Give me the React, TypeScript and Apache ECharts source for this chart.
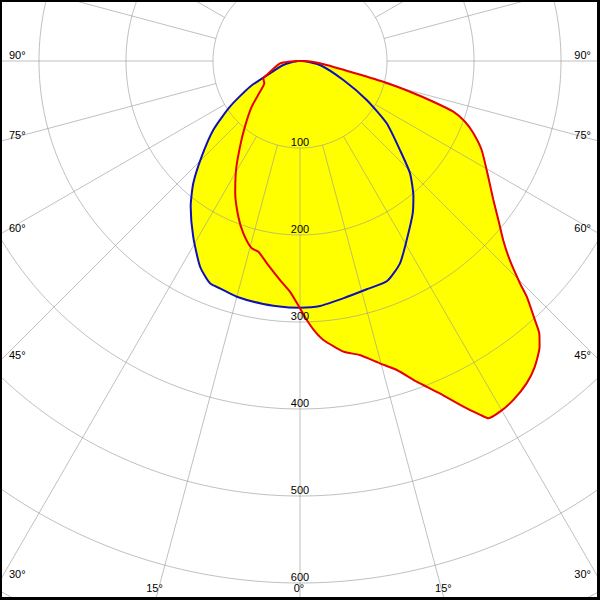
import React, { useEffect, useRef } from "react";
import * as echarts from "echarts";

// Luminous intensity (cd/klm) – plane C90/C270 (blue)
const blueAngles = [-180, -90, -76.5, -67.7, -62.8, -56.9, -51.5, -45.8, -41.1, -36.9, -31.3, -25.9, -22.0, -19.4, -15.0, -8.6, -3.1, 0, 4.7, 10.3, 16.3, 21.6, 26.3, 30.8, 36.5, 39.9, 44.4, 48.3, 54.3, 59.7, 66.3, 78.7, 90, 180];
const blueValues = [0, 2, 19.7, 37.3, 64.6, 96.1, 127.4, 157.7, 186.6, 209.3, 236.3, 262.9, 275.7, 277, 280.5, 282.5, 283.5, 283.5, 282.5, 277.3, 273.4, 272, 259.4, 239.5, 217.8, 203.2, 180.7, 153.9, 122.7, 88.8, 54.4, 23.4, 2, 0];

// plane C0/C180 (red)
const redAngles = [-180, -90, -83.4, -67.2, -64.8, -58.0, -52.5, -46.6, -40.0, -35.0, -30.4, -26.1, -21.6, -18.2, -14.5, -12.3, -9.3, -5.2, -2.5, 0, 1.5, 3.2, 4.8, 8.5, 11.5, 14.8, 17.4, 20.0, 22.8, 25.3, 27.0, 27.8, 29.7, 32.2, 35.1, 37.5, 40.0, 41.3, 42.2, 43.9, 44.7, 46.5, 48.6, 51.3, 54.3, 58.4, 63.9, 67.4, 69.8, 71.7, 73.0, 74.4, 76.0, 77.9, 83.4, 90, 180];
const redValues = [0, 3, 23.1, 41.5, 46.6, 48.4, 58, 76.4, 98.5, 120.2, 145.3, 169.3, 192.5, 208.5, 222.3, 224.4, 235.6, 252.8, 265.4, 284.3, 297.8, 311.6, 321.8, 337.8, 344.9, 359.4, 372.2, 392.3, 414.5, 439.4, 456.4, 464.2, 464.0, 460.3, 452.9, 443.2, 428.4, 416.7, 402, 375.9, 359.5, 332.5, 311.4, 292.2, 273.7, 254, 232.5, 215.9, 202.1, 185.6, 160.2, 131.3, 98.7, 58.8, 23.1, 3, 0];

// labels and grid
const radiusTicks = [100, 200, 300, 400, 500, 600];
const gridRadii = [100, 200, 300, 400, 500, 600, 700, 800];
const gridAngles = [-180, -165, -150, -135, -120, -105, -90, -75, -60, -45, -30, -15, 0, 15, 30, 45, 60, 75, 90, 105, 120, 135, 150, 165];
const angleTicks = [-90, -75, -60, -45, -30, -15, 0, 15, 30, 45, 60, 75, 90];

const CENTER = [300, 61];
const R_MAX = 800;
const R_PX = 696;

const FONT = "'Liberation Sans', Arial, sans-serif";
const GRID_COLOR = "rgba(150,150,150,0.6)";

const zip = (angles: number[], values: number[]) => angles.map((a, i) => [values[i], a]);

export default function App() {
  const ref = useRef<HTMLDivElement>(null);
  useEffect(() => {
    if (!ref.current) return;
    const chart = echarts.init(ref.current, null, { renderer: "svg" });
    const blueData = zip(blueAngles, blueValues);
    const redData = zip(redAngles, redValues);

    const circleAngles: number[] = [];
    for (let a = -180; a <= 180; a += 1) circleAngles.push(a);
    const gridSeries: any[] = [];
    gridRadii.forEach((r) => {
      gridSeries.push({
        type: "line", coordinateSystem: "polar", polarIndex: 0, silent: true,
        symbol: "none", smooth: false,
        lineStyle: { color: GRID_COLOR, width: 1 },
        data: circleAngles.map((a) => [r, a]),
      });
    });
    gridAngles.forEach((a) => {
      gridSeries.push({
        type: "line", coordinateSystem: "polar", polarIndex: 0, silent: true,
        symbol: "none", smooth: false,
        lineStyle: { color: GRID_COLOR, width: 1 },
        data: [[gridRadii[0], a], [gridRadii[gridRadii.length - 1], a]],
      });
    });

    chart.setOption({
      animation: false,
      backgroundColor: "#ffffff",
      polar: { center: CENTER, radius: R_PX },
      radiusAxis: { min: 0, max: R_MAX, show: false },
      angleAxis: { min: -180, max: 180, startAngle: 90, clockwise: false, show: false },
      series: [
        {
          type: "line", coordinateSystem: "polar", data: redData,
          symbol: "none", smooth: 0.2, lineStyle: { width: 0 },
          areaStyle: { color: "#ffff00", opacity: 1 }, silent: true,
        },
        {
          type: "line", coordinateSystem: "polar", data: blueData,
          symbol: "none", smooth: 0.2, lineStyle: { width: 0 },
          areaStyle: { color: "#ffff00", opacity: 1 }, silent: true,
        },
        ...gridSeries,
        {
          type: "line", coordinateSystem: "polar", data: blueData,
          symbol: "none", smooth: 0.2, lineStyle: { width: 2, color: "#1010b8" },
        },
        {
          type: "line", coordinateSystem: "polar", data: redData,
          symbol: "none", smooth: 0.2, lineStyle: { width: 2, color: "#e60000" },
        },
      ],
    });

    const toPx = (r: number, a: number): number[] => {
      try {
        const p = chart.convertToPixel({ seriesIndex: 0 }, [r, a]) as number[];
        if (p && isFinite(p[0]) && isFinite(p[1])) return p;
      } catch (e) {}
      const rad = (a * Math.PI) / 180;
      const k = (R_PX / R_MAX) * r;
      return [CENTER[0] + k * Math.sin(rad), CENTER[1] + k * Math.cos(rad)];
    };
    const c = toPx(0, 0);
    const W = 600, H = 600;
    const font = `11px ${FONT}`;
    const elements: any[] = [];
    radiusTicks.forEach((r) => {
      const p = toPx(r, 0);
      elements.push({
        type: "text", z: 30, silent: true,
        style: { text: String(r), x: p[0], y: p[1] - 6, align: "center", verticalAlign: "middle", fill: "#000", font },
      });
    });
    angleTicks.forEach((a) => {
      const rad = (a * Math.PI) / 180;
      const s = Math.sin(rad), co = Math.cos(rad);
      const tB = co > 1e-6 ? (H - c[1]) / co : Infinity;
      const tS = s > 1e-6 ? (W - c[0]) / s : s < -1e-6 ? c[0] / -s : Infinity;
      const label = `${Math.abs(a)}°`;
      if (tB <= tS) {
        elements.push({
          type: "text", z: 30, silent: true,
          style: { text: label, x: c[0] + tB * s - 1, y: 588, align: "center", verticalAlign: "middle", fill: "#000", font },
        });
      } else {
        const y = c[1] + tS * co - 6.5;
        elements.push({
          type: "text", z: 30, silent: true,
          style: { text: label, x: s < 0 ? 9 : 591, y, align: s < 0 ? "left" : "right", verticalAlign: "middle", fill: "#000", font },
        });
      }
    });
    elements.push({
      type: "rect", z: 40, silent: true,
      shape: { x: 0, y: 0, width: 599, height: 599 },
      style: { fill: "none", stroke: "#000", lineWidth: 4 },
    });
    chart.setOption({ graphic: elements });
    return () => chart.dispose();
  }, []);
  return <div ref={ref} style={{ position: "fixed", left: 0, top: 0, width: 600, height: 600, background: "#fff" }} />;
}
